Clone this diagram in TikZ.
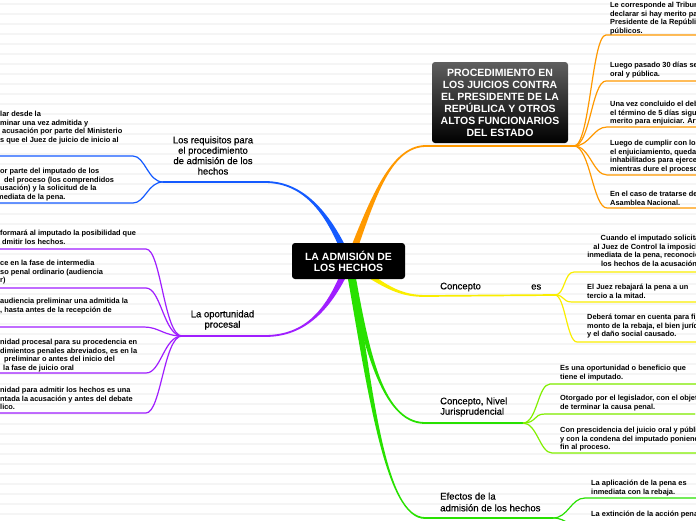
\documentclass[tikz,border=0pt]{standalone}
\usepackage{fontspec}
\setmainfont{Liberation Sans}
\newfontfamily\topicfont{Liberation Sans}[FakeBold=0.45]
\usetikzlibrary{calc}
\definecolor{corange}{RGB}{255,153,0}
\definecolor{cblue}{RGB}{20,90,255}
\definecolor{cpurple}{RGB}{160,30,255}
\definecolor{cyellow}{RGB}{250,238,0}
\definecolor{cgreen}{RGB}{40,225,0}
\definecolor{clime}{RGB}{130,240,0}
\definecolor{bgline}{RGB}{245,245,245}
\definecolor{boxtop}{RGB}{95,95,95}
% tapered branch: colour, start, c1, c2, end, start offset x, start offset y, end offset y
\newcommand\branch[8]{%
  \fill[#1] ($(#2)+(-#6,-#7)$) .. controls ($(#3)+(-0.6*#6,-0.6*#7)$) and ($(#4)+(0,-1.2*#8)$) .. ($(#5)+(0,-#8)$)
   -- ($(#5)+(0,#8)$) .. controls ($(#4)+(0,1.2*#8)$) and ($(#3)+(0.6*#6,0.6*#7)$) .. ($(#2)+(#6,#7)$) -- cycle;}
\begin{document}
\begin{tikzpicture}[x=1pt,y=-1pt,
  leaf/.style={font=\fontsize{7.4}{8.5}\selectfont\bfseries, align=left, anchor=north west, inner sep=0pt},
  leafc/.style={leaf, align=center, anchor=north},
  topic/.style={font=\topicfont\fontsize{9.5}{10.4}\selectfont, inner sep=0pt},
  twig/.style={line width=1.2pt},
  under/.style={line width=1.7pt}]
\useasboundingbox (0,0) rectangle (696,520);
\fill[white] (0,0) rectangle (696,520);
\foreach \k in {0,...,51} \draw[bgline, line width=1.2pt] (0,4+10*\k) -- (696,4+10*\k);

% coordinates
\coordinate (c0) at (349,262);
\coordinate (o1) at (372,200); \coordinate (o2) at (390,147); \coordinate (oE) at (425,146); \coordinate (oH) at (574,146);
\coordinate (b1) at (330,215); \coordinate (b2) at (305,182); \coordinate (bE) at (265,182); \coordinate (bH) at (163,182);
\coordinate (p1) at (330,310); \coordinate (p2) at (305,336); \coordinate (pE) at (265,336); \coordinate (pH) at (182,336);
\coordinate (y1) at (380,282); \coordinate (y2) at (395,296); \coordinate (yE) at (425,296); \coordinate (yH) at (555,295);
\coordinate (g1) at (365,340); \coordinate (g2) at (380,423); \coordinate (gE) at (425,423); \coordinate (gH) at (523,423);
\coordinate (h1) at (370,390); \coordinate (h2) at (385,518); \coordinate (hE) at (425,518); \coordinate (hH) at (553,518);

% leaf ends
\coordinate (oL1) at (606,35); \coordinate (oL2) at (606,81); \coordinate (oL3) at (607,127); \coordinate (oL4) at (607,175); \coordinate (oL5) at (607,208);
\coordinate (bL1) at (133,156); \coordinate (bL2) at (133,203);
\coordinate (pL1) at (146,249); \coordinate (pL2) at (146,288); \coordinate (pL3) at (144,327); \coordinate (pL4) at (146,373); \coordinate (pL5) at (146,413);
\coordinate (yL1) at (574,272); \coordinate (yL2) at (572,302); \coordinate (yL3) at (577,342);
\coordinate (gL1) at (550,384); \coordinate (gL2) at (545,414); \coordinate (gL3) at (552,453);
\coordinate (hL1) at (585,498); \coordinate (hL2) at (585,530);

% main branches
\branch{corange}{c0}{o1}{o2}{oE}{4}{0}{0.9}
\branch{cblue}{c0}{b1}{b2}{bE}{4}{0}{-0.9}
\branch{cpurple}{c0}{p1}{p2}{pE}{4}{0}{0.9}
\branch{cyellow}{c0}{y1}{y2}{yE}{0}{4}{0.9}
\branch{cgreen}{c0}{g1}{g2}{gE}{4}{0}{-0.9}
\branch{cgreen}{c0}{h1}{h2}{hE}{4}{0}{-0.9}

% topic underlines
\draw[corange, under] (oE) -- (oH);
\draw[cblue, under] (bE) -- (bH);
\draw[cpurple, under] (pE) -- (pH);
\draw[cyellow, under] (yE) -- (yH);
\draw[cgreen, under] (gE) -- (gH);
\draw[cgreen, under] (hE) -- (hH);

% twigs
\foreach \t in {oL1,oL2,oL3,oL4,oL5}
  \draw[corange, twig] (oH) .. controls +(16,0) and +(-14,0) .. (\t) -- ++(100,0);
\foreach \t in {bL1,bL2}
  \draw[cblue, twig] (bH) .. controls +(-15,0) and +(12,0) .. (\t) -- ++(-140,0);
\foreach \t in {pL1,pL2,pL3,pL4,pL5}
  \draw[cpurple, twig] (pH) .. controls +(-18,0) and +(15,0) .. (\t) -- ++(-150,0);
\foreach \t in {yL1,yL2,yL3}
  \draw[cyellow, twig] (yH) .. controls +(10,0) and +(-10,0) .. (\t) -- ++(130,0);
\foreach \t in {gL1,gL2,gL3}
  \draw[clime, twig] (gH) .. controls +(14,0) and +(-12,0) .. (\t) -- ++(150,0);
\foreach \t in {hL1,hL2}
  \draw[cgreen, twig] (hH) .. controls +(15,0) and +(-14,0) .. (\t) -- ++(120,0);

% central and box nodes
\node[fill=black, rounded corners=3pt, minimum width=113pt, minimum height=36pt, text=white,
  font=\fontsize{10.5}{11.2}\selectfont\bfseries, align=center, inner sep=0pt] (root) at (348.5,261) {LA ADMISIÓN DE\\LOS HECHOS};
\node[top color=boxtop, bottom color=black, rounded corners=3pt, minimum width=136pt, minimum height=81pt, text=white,
  font=\fontsize{10.5}{12}\selectfont\bfseries, align=center, inner sep=0pt] (proc) at (500,102.5)
  {PROCEDIMIENTO EN\\LOS JUICIOS CONTRA\\EL PRESIDENTE DE LA\\REPÚBLICA Y OTROS\\ALTOS FUNCIONARIOS\\DEL ESTADO};

% topic labels
\node[topic, align=center] (req) at (213,155.5) {Los requisitos para\\el procedimiento\\de admisión de los\\hechos};
\node[topic, align=center] (opo) at (222.5,320) {La oportunidad\\procesal};
\node[topic, anchor=west] (con) at (440,287) {Concepto};
\node[topic, anchor=west] (es) at (531,287) {es};
\node[topic, align=left, anchor=west] (cnj) at (440,407) {Concepto, Nivel\\Jurisprudencial};
\node[topic, align=left, anchor=west, font=\topicfont\fontsize{9.6}{11.7}\selectfont] (efe) at (440,502) {Efectos de la\\admisión de los hechos};

% orange leaves
\node[leaf] (oT1) at (610,2) {Le corresponde al Tribunal\\declarar si hay merito para\\Presidente de la República\\públicos.};
\node[leaf] (oT2) at (610,62) {Luego pasado 30 días se\\oral y pública.};
\node[leaf] (oT3) at (610,101) {Una vez concluido el debate\\el término de 5 días siguientes\\merito para enjuiciar. Art.};
\node[leaf] (oT4) at (610,140) {Luego de cumplir con los\\el enjuiciamiento, quedan\\inhabilitados para ejercer\\mientras dure el proceso};
\node[leaf] (oT5) at (610,191) {En el caso de tratarse de\\Asamblea Nacional.};

% blue leaves
\node[leaf] (bT1) at (0,111) {lar desde la\\minar una vez admitida y\\\hspace*{2pt}acusación por parte del Ministerio\\s que el Juez de juicio de inicio al};
\node[leaf] (bT2) at (0,168) {or parte del imputado de los\\\hspace*{4pt}del proceso (los comprendidos\\usación) y la solicitud de la\\\hspace*{-3pt}mediata de la pena.};

% purple leaves
\node[leaf] (pT1) at (0,230) {formará al imputado la posibilidad que\\\hspace*{2pt}dmitir los hechos.};
\node[leaf] (pT2) at (0,260) {ce en la fase de intermedia\\so penal ordinario (audiencia\\r)};
\node[leaf] (pT3) at (0,298) {audiencia preliminar una admitida la\\, hasta antes de la recepción de};
\node[leaf] (pT4) at (0,339) {nidad procesal para su procedencia en\\dimientos penales abreviados, es en la\\\hspace*{4pt}preliminar o antes del inicio del\\\hspace*{3pt}la fase de juicio oral};
\node[leaf] (pT5) at (0,387) {nidad para admitir los hechos es una\\ntada la acusación y antes del debate\\lico.};

% yellow leaves
\node[leafc] (yT1) at (650,235) {Cuando el imputado solicita\\al Juez de Control la imposición\\inmediata de la pena, reconociendo\\los hechos de la acusación.};
\node[leaf] (yT2) at (587,284) {El Juez rebajará la pena a un\\tercio a la mitad.};
\node[leaf] (yT3) at (587,314) {Deberá tomar en cuenta para fijar el\\monto de la rebaja, el bien jurídico\\y el daño social causado.};

% green leaves
\node[leaf] (gT1) at (560,365) {Es una oportunidad o beneficio que\\tiene el imputado.};
\node[leaf] (gT2) at (560,395) {Otorgado por el legislador, con el objeto\\de terminar la causa penal.};
\node[leaf] (gT3) at (560,427) {Con prescidencia del juicio oral y público\\y con la condena del imputado poniendo\\fin al proceso.};
\node[leaf] (hT1) at (591,480) {La aplicación de la pena es\\inmediata con la rebaja.};
\node[leaf] (hT2) at (591,511) {La extinción de la acción penal};
\end{tikzpicture}
\end{document}
